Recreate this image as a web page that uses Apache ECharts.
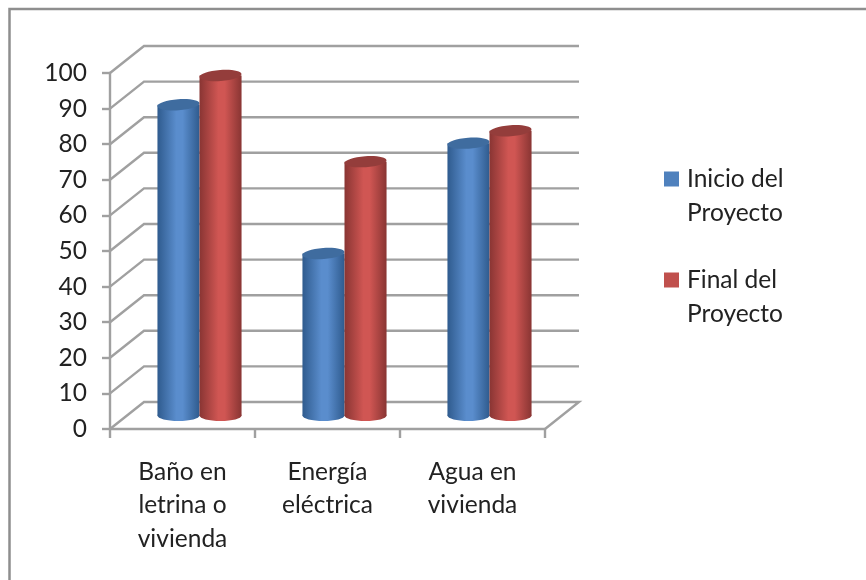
<!DOCTYPE html>
<html><head><meta charset="utf-8">
<style>html,body{margin:0;padding:0;background:#fff}#c{width:866px;height:580px}</style>
<script src="https://cdn.jsdelivr.net/npm/echarts@6/dist/echarts.min.js"></script>
</head><body><div id="c"></div>
<script>
const categories = ['Baño en\nletrina o\nvivienda', 'Energía\neléctrica', 'Agua en\nvivienda'];
const inicio = [87.3, 45.5, 76.5];
const final = [95.5, 71.3, 80];
const ticks = [0,10,20,30,40,50,60,70,80,90,100];
const seriesNames = ['Inicio del\nProyecto', 'Final del\nProyecto'];
const DX = 34, DY = 27, GREY = '#a0a0a0';

function grad(d, m) {
  return new echarts.graphic.LinearGradient(0,0,1,0,[
    {offset:0,color:d},{offset:0.45,color:m},{offset:0.6,color:m},{offset:1,color:d}]);
}
function cyl(side, dark, mid, top) {
  return function(params, api) {
    const i = api.value(0), v = api.value(1);
    const band = api.size([1,0])[0];
    const w = band * 0.29, ry = 5.5;
    const a = api.coord([i, v]), b = api.coord([i, 0]);
    const left = a[0] + DX/2 + (side < 0 ? -w : 0);
    const yt = a[1] - DY/2, yb = b[1] - DY/2;
    const cx = left + w/2;
    return {type:'group', children:[
      {type:'ellipse', shape:{cx:cx, cy:yb, rx:w/2, ry:ry}, style:{fill:grad(dark,mid)}},
      {type:'rect', shape:{x:left, y:yt, width:w, height:yb-yt}, style:{fill:grad(dark,mid)}},
      {type:'ellipse', shape:{cx:cx, cy:yt, rx:w/2, ry:ry}, originX:cx, originY:yt, rotation:0.07, style:{fill:top}}
    ]};
  };
}
function gridItem(params, api) {
  const v = api.value(1);
  const band = api.size([1,0])[0];
  const p = api.coord([0, v]);
  const x0 = p[0] - band/2, y = p[1];
  const xEnd = x0 + band * categories.length;
  const pts = [[x0,y],[x0+DX,y-DY],[xEnd+DX,y-DY]];
  if (v === 0) pts.push([xEnd,y]);
  return {type:'polyline', shape:{points:pts}, style:{stroke:GREY, lineWidth:2.4, fill:null}};
}
const chart = echarts.init(document.getElementById('c'));
chart.setOption({
  animation:false,
  backgroundColor:'#fff',
  textStyle:{fontFamily:'Lato'},
  graphic:[
    {type:'polyline', silent:true, shape:{points:[[9.5,580],[9.5,9],[866,9]]},
     style:{stroke:'#8e8e8e', lineWidth:2.5, fill:null}}
  ],
  grid:{left:110, right:321, top:73, bottom:151},
  xAxis:{type:'category', data:categories, boundaryGap:true,
    axisLine:{lineStyle:{color:GREY,width:2.4}},
    axisTick:{show:true,length:9,lineStyle:{color:GREY,width:2.4}},
    axisLabel:{color:'#222',fontSize:24.5,lineHeight:33.5,margin:26,interval:0,fontFamily:'Lato'}},
  yAxis:{type:'value', min:0, max:100, interval:10,
    axisLine:{show:true,lineStyle:{color:GREY,width:2.4}},
    axisTick:{show:true,length:8,lineStyle:{color:GREY,width:2.4}},
    splitLine:{show:false},
    axisLabel:{color:'#222',fontSize:24.5,margin:23,fontFamily:'Lato',formatter:v=>String(v)}},
  legend:{orient:'vertical', left:659, top:157, itemGap:33, itemWidth:15, itemHeight:49,
    data:seriesNames.map(n=>({name:n, icon:'path://M0 0H15V15H0Z M0 49L0 49'})),
    selectedMode:false, itemStyle:{borderWidth:0},
    textStyle:{color:'#222',fontSize:24.5,lineHeight:34,fontFamily:'Lato',padding:[0,0,0,3]}},
  series:[
    {type:'custom', name:'rejilla', silent:true, z:1, clip:false,
     data:ticks.map(t=>[0,t]), encode:{x:0,y:1}, renderItem:gridItem},
    {type:'custom', name:seriesNames[0], z:2, clip:false, itemStyle:{color:'#4f81bd'},
     data:inicio.map((v,i)=>[i,v]), encode:{x:0,y:1},
     renderItem:cyl(-1,'#2f5b8e','#5a8dcd','#3f6c9f')},
    {type:'custom', name:seriesNames[1], z:3, clip:false, itemStyle:{color:'#c0504d'},
     data:final.map((v,i)=>[i,v]), encode:{x:0,y:1},
     renderItem:cyl(1,'#893533','#d05653','#943d3b')}
  ]
});
</script></body></html>
